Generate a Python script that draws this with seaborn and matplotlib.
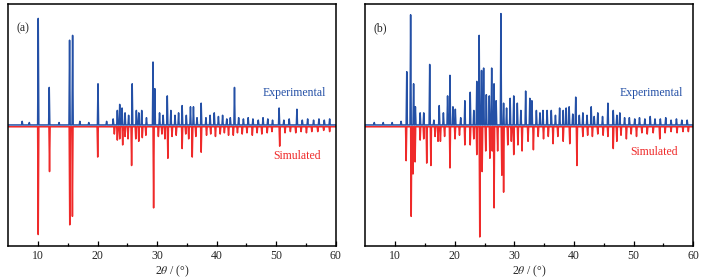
import matplotlib
matplotlib.use('Agg')
import matplotlib.pyplot as plt
import pandas as pd
import numpy as np
import seaborn as sns

# (a) peak positions (2theta) and relative intensities
a_exp_pos = [7.3, 8.5, 10.0, 11.85, 13.5, 15.27, 15.78, 17.0, 18.5, 20.05, 21.5, 22.6, 23.3, 23.7, 24.1, 24.6,
             25.2, 25.8, 26.5, 26.9, 27.4, 28.2, 29.3, 29.6, 30.4, 31.0, 31.7, 32.3, 33.0, 33.6, 34.2, 34.9,
             35.6, 36.1, 36.7, 37.4, 38.2, 38.9, 39.6, 40.3, 41.0, 41.7, 42.3, 43.0, 43.7, 44.5, 45.3, 46.1,
             47.0, 47.8, 48.6, 49.4, 50.5, 51.3, 52.2, 53.5, 54.4, 55.3, 56.3, 57.2, 58.1, 59.0]
a_exp_int = [0.03, 0.02, 0.88, 0.31, 0.02, 0.70, 0.74, 0.03, 0.02, 0.34, 0.03, 0.05, 0.12, 0.17, 0.14, 0.10,
             0.08, 0.34, 0.12, 0.10, 0.12, 0.06, 0.52, 0.30, 0.10, 0.08, 0.24, 0.12, 0.08, 0.10, 0.16, 0.08,
             0.15, 0.15, 0.06, 0.18, 0.06, 0.08, 0.10, 0.07, 0.08, 0.05, 0.06, 0.31, 0.06, 0.05, 0.06, 0.05,
             0.04, 0.06, 0.05, 0.04, 0.14, 0.04, 0.05, 0.13, 0.04, 0.05, 0.04, 0.05, 0.04, 0.05]
a_sim_pos = [10.0, 11.9, 15.3, 15.75, 20.0, 22.8, 23.3, 23.7, 24.2, 24.6, 25.1, 25.7, 26.4, 26.9, 27.5, 28.1,
             29.4, 30.2, 30.8, 31.3, 31.8, 32.5, 33.2, 34.2, 34.8, 35.3, 35.9, 36.5, 37.4, 38.3, 39.0, 39.8,
             40.6, 41.3, 42.0, 42.8, 43.5, 44.3, 45.1, 46.0, 46.8, 47.6, 48.5, 49.3, 50.6, 51.5, 52.4, 53.3,
             54.2, 55.1, 56.0, 57.0, 58.0, 59.0]
a_sim_int = [0.89, 0.37, 0.81, 0.74, 0.25, 0.06, 0.11, 0.10, 0.15, 0.08, 0.10, 0.32, 0.10, 0.12, 0.09, 0.07,
             0.67, 0.08, 0.06, 0.10, 0.26, 0.08, 0.07, 0.18, 0.06, 0.10, 0.25, 0.08, 0.21, 0.07, 0.06, 0.08,
             0.06, 0.05, 0.07, 0.07, 0.05, 0.06, 0.05, 0.07, 0.05, 0.06, 0.05, 0.04, 0.16, 0.05, 0.04, 0.05,
             0.04, 0.05, 0.04, 0.04, 0.03, 0.04]

# (b)
b_exp_pos = [6.5, 8.0, 9.5, 11.0, 11.95, 12.6, 13.1, 13.4, 14.2, 14.8, 15.8, 16.5, 17.4, 18.1, 18.8, 19.2,
             19.7, 20.1, 21.0, 21.7, 22.6, 23.2, 23.7, 24.1, 24.5, 24.85, 25.3, 25.8, 26.2, 26.6, 26.95,
             27.75, 28.2, 28.7, 29.3, 29.9, 30.5, 31.1, 31.9, 32.6, 32.95, 33.7, 34.3, 34.8, 35.5, 36.2,
             36.9, 37.6, 38.2, 38.7, 39.2, 39.8, 40.3, 40.9, 41.5, 42.2, 42.9, 43.4, 44.0, 44.8, 45.7,
             46.6, 47.2, 47.7, 48.5, 49.3, 50.2, 51.0, 51.9, 52.8, 53.6, 54.5, 55.4, 56.3, 57.2, 58.1, 59.0]
b_exp_int = [0.02, 0.02, 0.02, 0.03, 0.44, 0.91, 0.34, 0.15, 0.10, 0.10, 0.50, 0.04, 0.16, 0.10, 0.24, 0.41,
             0.15, 0.13, 0.06, 0.20, 0.27, 0.12, 0.36, 0.74, 0.45, 0.47, 0.25, 0.24, 0.47, 0.34, 0.20,
             0.92, 0.18, 0.14, 0.22, 0.24, 0.18, 0.12, 0.28, 0.22, 0.20, 0.12, 0.10, 0.12, 0.12, 0.12,
             0.08, 0.14, 0.12, 0.14, 0.15, 0.09, 0.23, 0.08, 0.10, 0.08, 0.15, 0.07, 0.10, 0.07, 0.18,
             0.12, 0.08, 0.10, 0.06, 0.06, 0.05, 0.06, 0.05, 0.07, 0.05, 0.05, 0.06, 0.04, 0.05, 0.04, 0.04]
b_sim_pos = [11.85, 12.7, 13.0, 13.35, 14.2, 14.8, 15.3, 16.0, 16.7, 17.2, 17.6, 18.3, 19.2, 20.05, 20.8,
             21.7, 22.6, 23.2, 23.7, 24.2, 24.6, 25.2, 25.9, 26.3, 26.6, 27.2, 27.9, 28.2, 28.9, 29.5,
             29.9, 30.6, 31.3, 32.3, 33.2, 34.0, 34.9, 35.7, 36.5, 37.3, 38.2, 39.3, 40.5, 41.5, 42.3,
             43.1, 44.0, 44.9, 45.7, 46.6, 47.2, 47.9, 48.8, 49.6, 50.5, 51.4, 52.3, 53.3, 54.4, 55.3,
             56.3, 57.3, 58.3, 59.2]
b_sim_int = [0.28, 0.74, 0.39, 0.29, 0.11, 0.10, 0.30, 0.32, 0.08, 0.12, 0.12, 0.08, 0.34, 0.10, 0.07,
             0.15, 0.15, 0.10, 0.23, 0.91, 0.37, 0.20, 0.26, 0.20, 0.67, 0.20, 0.40, 0.54, 0.15, 0.12,
             0.23, 0.15, 0.20, 0.12, 0.19, 0.08, 0.10, 0.08, 0.14, 0.08, 0.12, 0.14, 0.32, 0.08, 0.07,
             0.08, 0.06, 0.07, 0.08, 0.18, 0.12, 0.07, 0.10, 0.06, 0.08, 0.05, 0.06, 0.05, 0.10, 0.05,
             0.04, 0.05, 0.04, 0.04]

blue = '#2450a6'
red = '#ef2a2a'


def profile(pos, inten, offset, sign, w=0.1):
    # narrow triangular peaks joined along the baseline
    rows = [(4.0, offset)]
    for p, h in sorted(zip(pos, inten)):
        rows += [(p - w, offset), (p, offset + sign * h), (p + w, offset)]
    rows.append((61.0, offset))
    return pd.DataFrame(rows, columns=['x', 'y'])


sns.set_style('white')
plt.rcParams['font.family'] = ['Liberation Serif', 'DejaVu Serif']
plt.rcParams['mathtext.fontset'] = 'stix'

fig = plt.figure(figsize=(7.08, 2.78), dpi=100)
ax1 = fig.add_axes([0.012, 0.115, 0.462, 0.871])
ax2 = fig.add_axes([0.516, 0.115, 0.463, 0.871])

panels = [(ax1, '(a)', a_exp_pos, a_exp_int, a_sim_pos, a_sim_int, -0.26),
          (ax2, '(b)', b_exp_pos, b_exp_int, b_sim_pos, b_sim_int, -0.22)]

for ax, tag, ep, ei, sp, si, sy in panels:
    sns.lineplot(data=profile(sp, si, -0.015, -1), x='x', y='y', ax=ax,
                 color=red, lw=1.1, sort=False, estimator=None)
    sns.lineplot(data=profile(ep, ei, 0.0, 1), x='x', y='y', ax=ax,
                 color=blue, lw=1.1, sort=False, estimator=None)
    ax.set_xlim(5, 60)
    ax.set_ylim(-1.0, 1.0)
    ax.set_xticks([10, 20, 30, 40, 50, 60])
    ax.set_xticks([15, 25, 35, 45, 55], minor=True)
    ax.set_yticks([])
    ax.tick_params(axis='x', which='both', direction='in', bottom=True, top=False,
                   labelsize=8.5, pad=3, color='black')
    ax.tick_params(axis='x', which='major', length=3.5, width=0.9)
    ax.tick_params(axis='x', which='minor', length=2.5, width=0.9)
    for s in ax.spines.values():
        s.set_color('black')
        s.set_linewidth(1.1)
    ax.set_xlabel(r'2$\theta$ / (°)', fontsize=8.5, labelpad=1)
    ax.set_ylabel('')
    ax.text(0.025, 0.9, tag, transform=ax.transAxes, fontsize=8.5, ha='left', va='center')
    ax.text(53.0, 0.26, 'Experimental', color=blue, fontsize=8.5, ha='center', va='center')
    ax.text(53.5, sy, 'Simulated', color=red, fontsize=8.5, ha='center', va='center')

fig.savefig('out.png', dpi=100)
